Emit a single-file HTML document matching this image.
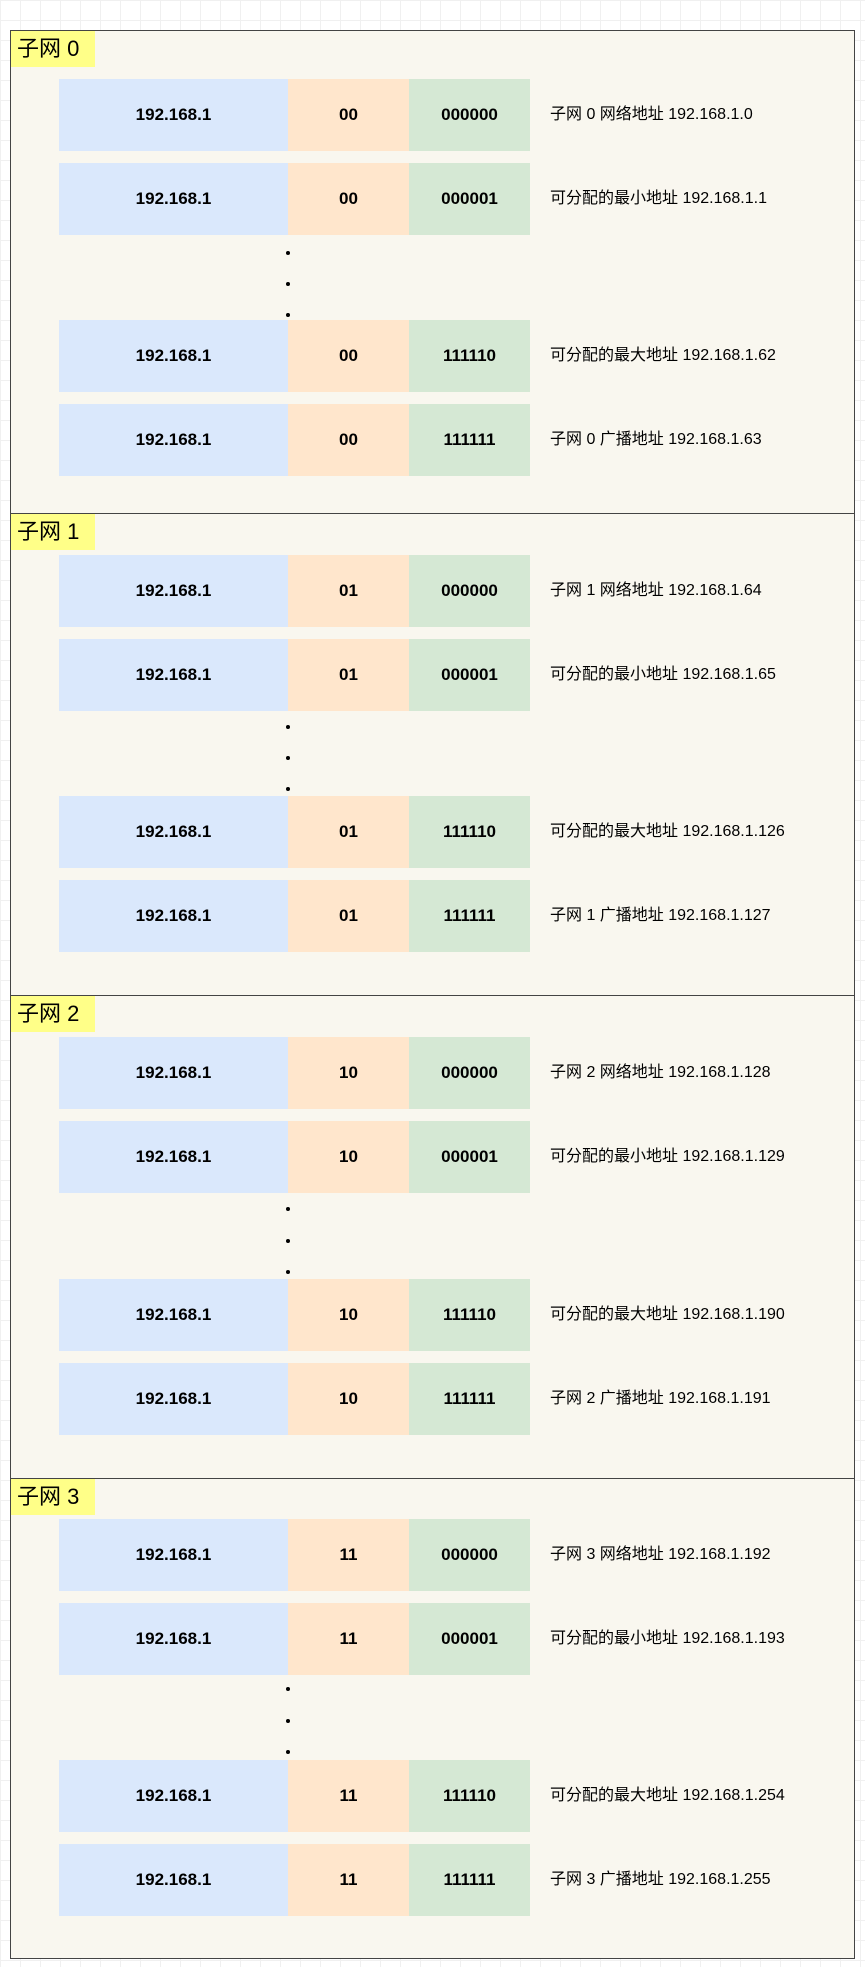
<!DOCTYPE html>
<html><head><meta charset="utf-8"><style>
body{margin:0;width:865px;height:1967px;position:relative;background:#fff;overflow:hidden;
background-image:linear-gradient(#f0f0f0 1px,transparent 1px),linear-gradient(90deg,#f0f0f0 1px,transparent 1px);background-size:20px 20px;}
.sec{position:absolute;left:10px;width:845px;background:#f9f7ef;border:1px solid #444;box-sizing:border-box;}
.lab{position:absolute;left:11px;width:84px;height:36px;background:#ffff88;font:22px "Liberation Sans","Noto Sans CJK SC",sans-serif;line-height:36px;padding-left:6px;box-sizing:border-box;color:#000}
.b{position:absolute;height:72px;font:bold 17px "Liberation Sans",sans-serif;display:flex;align-items:center;justify-content:center;color:#000}
.bl{left:59px;width:229px;background:#dae8fc}
.or{left:288px;width:121px;background:#ffe6cc}
.gr{left:409px;width:121px;background:#d5e8d4}
.t{position:absolute;left:550px;height:72px;font:16px "Liberation Sans","Noto Sans CJK SC",sans-serif;line-height:72px;color:#000;white-space:nowrap}
.d{position:absolute;left:286px;width:4px;height:4px;background:#000;border-radius:2px}
</style></head><body>
<div class="sec" style="top:30px;height:484px"></div>
<div class="sec" style="top:513px;height:483px"></div>
<div class="sec" style="top:995px;height:484px"></div>
<div class="sec" style="top:1478px;height:481px"></div>
<div class="lab" style="top:31px">子网 0</div>
<div class="lab" style="top:514px">子网 1</div>
<div class="lab" style="top:996px">子网 2</div>
<div class="lab" style="top:1479px">子网 3</div>

<div class="b bl" style="top:79px">192.168.1</div><div class="b or" style="top:79px">00</div><div class="b gr" style="top:79px">000000</div><div class="t" style="top:79px">子网 0 网络地址 192.168.1.0</div>
<div class="b bl" style="top:163px">192.168.1</div><div class="b or" style="top:163px">00</div><div class="b gr" style="top:163px">000001</div><div class="t" style="top:163px">可分配的最小地址 192.168.1.1</div>
<div class="d" style="top:251px"></div><div class="d" style="top:282px"></div><div class="d" style="top:313px"></div>
<div class="b bl" style="top:320px">192.168.1</div><div class="b or" style="top:320px">00</div><div class="b gr" style="top:320px">111110</div><div class="t" style="top:320px">可分配的最大地址 192.168.1.62</div>
<div class="b bl" style="top:404px">192.168.1</div><div class="b or" style="top:404px">00</div><div class="b gr" style="top:404px">111111</div><div class="t" style="top:404px">子网 0 广播地址 192.168.1.63</div>

<div class="b bl" style="top:555px">192.168.1</div><div class="b or" style="top:555px">01</div><div class="b gr" style="top:555px">000000</div><div class="t" style="top:555px">子网 1 网络地址 192.168.1.64</div>
<div class="b bl" style="top:639px">192.168.1</div><div class="b or" style="top:639px">01</div><div class="b gr" style="top:639px">000001</div><div class="t" style="top:639px">可分配的最小地址 192.168.1.65</div>
<div class="d" style="top:725px"></div><div class="d" style="top:756px"></div><div class="d" style="top:787px"></div>
<div class="b bl" style="top:796px">192.168.1</div><div class="b or" style="top:796px">01</div><div class="b gr" style="top:796px">111110</div><div class="t" style="top:796px">可分配的最大地址 192.168.1.126</div>
<div class="b bl" style="top:880px">192.168.1</div><div class="b or" style="top:880px">01</div><div class="b gr" style="top:880px">111111</div><div class="t" style="top:880px">子网 1 广播地址 192.168.1.127</div>

<div class="b bl" style="top:1037px">192.168.1</div><div class="b or" style="top:1037px">10</div><div class="b gr" style="top:1037px">000000</div><div class="t" style="top:1037px">子网 2 网络地址 192.168.1.128</div>
<div class="b bl" style="top:1121px">192.168.1</div><div class="b or" style="top:1121px">10</div><div class="b gr" style="top:1121px">000001</div><div class="t" style="top:1121px">可分配的最小地址 192.168.1.129</div>
<div class="d" style="top:1207px"></div><div class="d" style="top:1239px"></div><div class="d" style="top:1270px"></div>
<div class="b bl" style="top:1279px">192.168.1</div><div class="b or" style="top:1279px">10</div><div class="b gr" style="top:1279px">111110</div><div class="t" style="top:1279px">可分配的最大地址 192.168.1.190</div>
<div class="b bl" style="top:1363px">192.168.1</div><div class="b or" style="top:1363px">10</div><div class="b gr" style="top:1363px">111111</div><div class="t" style="top:1363px">子网 2 广播地址 192.168.1.191</div>

<div class="b bl" style="top:1519px">192.168.1</div><div class="b or" style="top:1519px">11</div><div class="b gr" style="top:1519px">000000</div><div class="t" style="top:1519px">子网 3 网络地址 192.168.1.192</div>
<div class="b bl" style="top:1603px">192.168.1</div><div class="b or" style="top:1603px">11</div><div class="b gr" style="top:1603px">000001</div><div class="t" style="top:1603px">可分配的最小地址 192.168.1.193</div>
<div class="d" style="top:1687px"></div><div class="d" style="top:1719px"></div><div class="d" style="top:1750px"></div>
<div class="b bl" style="top:1760px">192.168.1</div><div class="b or" style="top:1760px">11</div><div class="b gr" style="top:1760px">111110</div><div class="t" style="top:1760px">可分配的最大地址 192.168.1.254</div>
<div class="b bl" style="top:1844px">192.168.1</div><div class="b or" style="top:1844px">11</div><div class="b gr" style="top:1844px">111111</div><div class="t" style="top:1844px">子网 3 广播地址 192.168.1.255</div>
</body></html>
